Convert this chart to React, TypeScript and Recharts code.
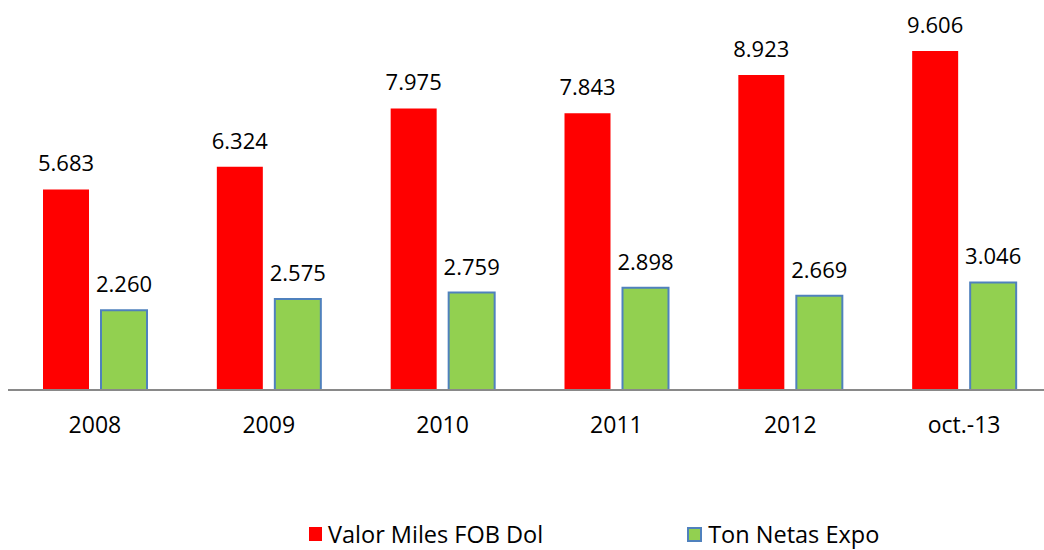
import React from "react";
import { BarChart, Bar, XAxis, YAxis, Legend, LabelList } from "recharts";

const categories = ["2008", "2009", "2010", "2011", "2012", "oct.-13"];
const valorMiles = [5.683, 6.324, 7.975, 7.843, 8.923, 9.606];
const tonNetas = [2.26, 2.575, 2.759, 2.898, 2.669, 3.046];

const data = categories.map((c, i) => ({ name: c, valor: valorMiles[i], ton: tonNetas[i] }));

const FONT = "'Open Sans', sans-serif";

const fmt = (v: any) => Number(v).toFixed(3);

const LegendContent = () => (
  <div style={{ display: "flex", alignItems: "center", fontFamily: FONT, fontSize: 23.5, lineHeight: "30px", height: 30, color: "#000", whiteSpace: "nowrap" }}>
    <span style={{ display: "inline-block", width: 13, height: 14, background: "#FF0000", marginRight: 6 }} />
    <span>Valor Miles FOB Dol</span>
    <span style={{ display: "inline-block", width: 11, height: 11, background: "#92D050", border: "2px solid #4F81BD", marginLeft: 144, marginRight: 6 }} />
    <span>Ton Netas Expo</span>
  </div>
);

export default function App() {
  return (
    <div style={{ position: "absolute", left: 0, top: 0, width: 1044, height: 550, overflow: "hidden", background: "#fff" }}>
      <BarChart
        width={1051}
        height={550}
        data={data}
        margin={{ top: 37, right: 0, left: 8, bottom: 100 }}
        barSize={46}
        barGap={12}
      >
        <XAxis
          dataKey="name"
          tickLine={false}
          tickSize={0}
          tickMargin={27}
          axisLine={{ stroke: "#898989", strokeWidth: 2 }}
          tick={{ fill: "#000", fontSize: 23, fontFamily: FONT }}
          height={30}
          interval={0}
        />
        <YAxis hide domain={[0, 10]} />
        <Legend
          verticalAlign="bottom"
          content={<LegendContent />}
          wrapperStyle={{ position: "absolute", left: 309, top: 519, width: 720, height: 30 }}
        />
        <Bar dataKey="valor" fill="#FF0000" isAnimationActive={false}>
          <LabelList dataKey="valor" position="top" offset={18} formatter={fmt} style={{ fill: "#000", fontSize: 22, fontFamily: FONT }} />
        </Bar>
        <Bar dataKey="ton" fill="#92D050" stroke="#4F81BD" strokeWidth={2} isAnimationActive={false}>
          <LabelList dataKey="ton" position="top" offset={18} formatter={fmt} style={{ fill: "#000", fontSize: 22, fontFamily: FONT }} />
        </Bar>
      </BarChart>
    </div>
  );
}
